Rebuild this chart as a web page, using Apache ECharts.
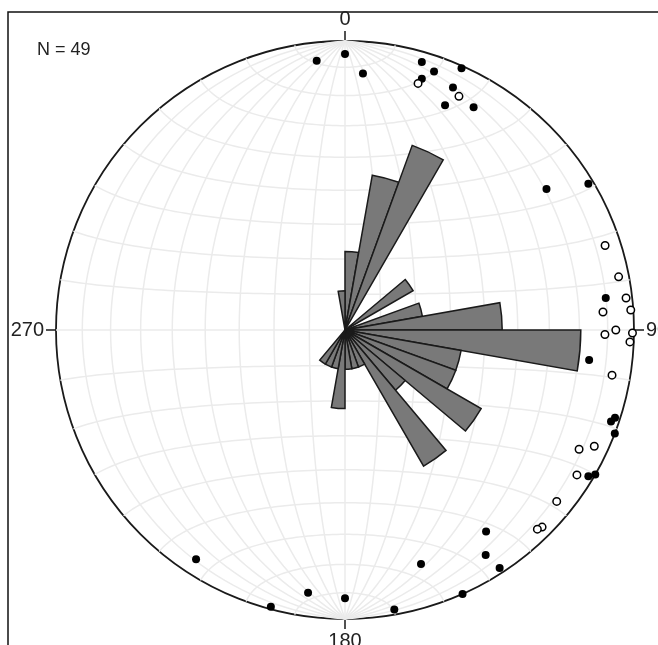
<!DOCTYPE html>
<html>
<head>
<meta charset="utf-8">
<script src="https://cdn.jsdelivr.net/npm/echarts@6/dist/echarts.min.js"></script>
<style>
  html, body { margin: 0; padding: 0; background: #fff; }
  #chart { width: 658px; height: 645px; }
</style>
</head>
<body>
<div id="chart"></div>
<script>
// rose diagram: 10 degree bins, counts per bin (azimuth from north, clockwise)
const roseBins = ['0', '10', '20', '30', '40', '50', '60', '70', '80', '90', '100', '110',
  '120', '130', '140', '150', '160', '170', '180', '190', '200', '210', '220', '230',
  '240', '250', '260', '270', '280', '290', '300', '310', '320', '330', '340', '350']
const roseCounts = [2, 4, 5, 0, 0, 2, 0, 2, 4, 6, 3, 3,
  4, 2, 4, 1, 1, 1, 2, 1, 1, 1, 0, 0,
  0, 0, 0, 0, 0, 0, 0, 0, 0, 0, 0, 1]

// poles as [trend, plunge], lower hemisphere (filled) and upper (open)
const filledPoles = [
  [354, 7], [0, 5], [4, 12], [16, 4], [19, 6], [24, 1], [17, 10], [24, 9], [24, 16], [30, 12],
  [55, 16], [59, 2], [83, 10], [97, 16], [108, 2], [109, 3], [111, 0], [121, 2], [120, 0],
  [213, 6], [195, 1], [188, 9], [180, 8], [170, 2], [162, 16], [145, 16], [148, 9], [147, 2], [156, 0]
]
const openPoles = [
  [16.5, 12], [26, 11], [72, 6], [79, 4], [83.5, 2.4], [86, 11.5], [86, 1], [91, 11], [90, 7],
  [90.6, 0.6], [92.4, 1.5], [99.6, 7], [115, 5.4], [117, 10], [122, 6], [129, 6.4], [135, 4], [136, 4.7]
]

const compassTicks = [0, 90, 180, 270]
const countLabel = 'N = 49'

const CX = 345, CY = 330, R = 289
const rad = Math.PI / 180

// Schmidt (equal-area) projection, unit primitive circle
function project(trend, plunge) {
  const r = Math.SQRT2 * Math.sin((90 - plunge) / 2 * rad)
  return [r * Math.sin(trend * rad), r * Math.cos(trend * rad)]
}

// net graticule: meridians and small circles every 10 degrees
function netPoint(lon, lat) {
  const d = Math.sqrt(1 + Math.cos(lat * rad) * Math.cos(lon * rad))
  return [Math.cos(lat * rad) * Math.sin(lon * rad) / d, Math.sin(lat * rad) / d]
}
const netLines = []
for (let a = -80; a <= 80; a += 10) {
  const mer = [], par = []
  for (let t = -90; t <= 90; t += 2) {
    mer.push(netPoint(a, t))
    par.push(netPoint(t, a))
  }
  netLines.push({ coords: mer }, { coords: par })
}

const chart = echarts.init(document.getElementById('chart'))
const font = 'Liberation Sans, Arial, sans-serif'

chart.setOption({
  animation: false,
  backgroundColor: '#fff',
  title: {
    text: countLabel,
    left: 32,
    top: 36,
    textStyle: { fontSize: 18, fontWeight: 'normal', color: '#222', fontFamily: font }
  },
  graphic: [{
    type: 'rect',
    shape: { x: 8, y: 12, width: 720, height: 720 },
    style: { fill: 'none', stroke: '#111', lineWidth: 1.5 },
    silent: true
  }],
  grid: { left: CX - R, top: CY - R, width: 2 * R, height: 2 * R },
  xAxis: { type: 'value', min: -1, max: 1, show: false },
  yAxis: { type: 'value', min: -1, max: 1, show: false },
  polar: [
    { center: [CX, CY], radius: R },
    { center: [CX, CY], radius: R }
  ],
  angleAxis: [
    {
      polarIndex: 0,
      type: 'value',
      min: 0,
      max: 360,
      interval: 90,
      startAngle: 90,
      clockwise: true,
      axisLine: { lineStyle: { color: '#1a1a1a', width: 1.8 } },
      axisTick: { show: true, length: 10, lineStyle: { color: '#1a1a1a', width: 1.5 } },
      axisLabel: {
        margin: 12,
        fontSize: 20,
        color: '#222',
        fontFamily: font,
        formatter: v => compassTicks.includes(v) ? String(v) : ''
      },
      splitLine: { show: false }
    },
    {
      polarIndex: 1,
      type: 'category',
      data: roseBins,
      startAngle: 90,
      clockwise: true,
      show: false
    }
  ],
  radiusAxis: [
    { polarIndex: 0, show: false, min: 0, max: 1 },
    { polarIndex: 1, show: false, min: 0, max: R / 39.3 }
  ],
  series: [
    {
      type: 'lines',
      coordinateSystem: 'cartesian2d',
      polyline: true,
      silent: true,
      z: 1,
      lineStyle: { color: '#ebebeb', width: 1.5, opacity: 1 },
      data: netLines
    },
    {
      type: 'bar',
      coordinateSystem: 'polar',
      polarIndex: 1,
      barCategoryGap: '0%',
      z: 3,
      itemStyle: { color: '#797979', borderColor: '#1a1a1a', borderWidth: 1.5 },
      data: roseCounts.map(v => v === 0 ? null : v)
    },
    {
      type: 'scatter',
      coordinateSystem: 'cartesian2d',
      z: 5,
      symbolSize: 8,
      itemStyle: { color: '#000', opacity: 1 },
      data: filledPoles.map(p => project(p[0], p[1]))
    },
    {
      type: 'scatter',
      coordinateSystem: 'cartesian2d',
      z: 5,
      symbolSize: 7.5,
      itemStyle: { color: '#fff', borderColor: '#000', borderWidth: 1.5, opacity: 1 },
      data: openPoles.map(p => project(p[0], p[1]))
    }
  ]
})
</script>
</body>
</html>
